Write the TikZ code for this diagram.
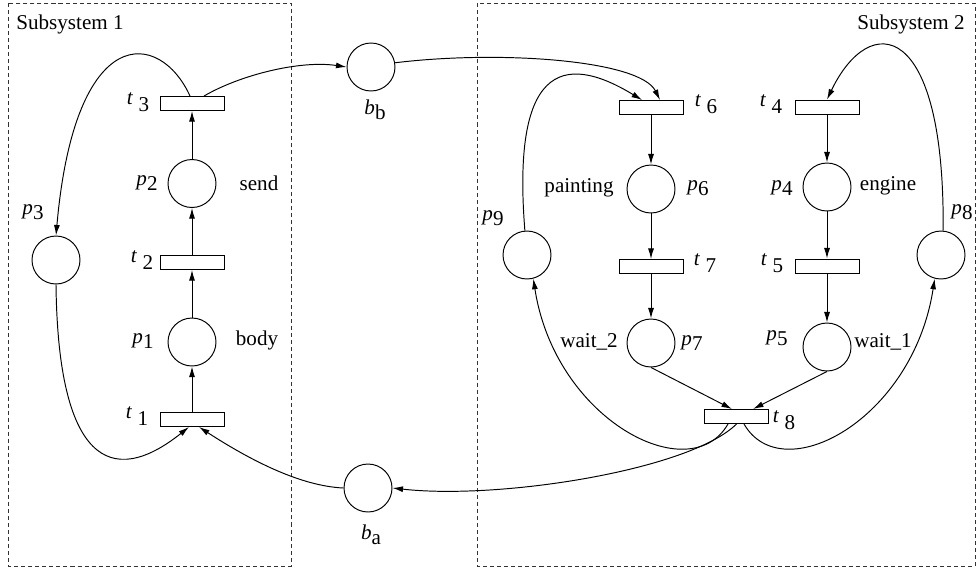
\documentclass[tikz,border=0pt]{standalone}
\usepackage{fontspec}
\setmainfont{Liberation Serif}
\usetikzlibrary{arrows.meta,calc}
\newcommand\ilab[2]{\textit{#1}\raisebox{-0.55ex}{#2}}
\newcommand\tlab[1]{\textit{t}\kern0.25em\raisebox{-0.75ex}{#1}}
\begin{document}
\begin{tikzpicture}[x=0.02cm,y=-0.02cm,
  font=\fontsize{12}{14}\selectfont,
  line width=0.55pt,
  place/.style={circle,draw,minimum size=0.96cm,inner sep=0pt},
  trans/.style={rectangle,draw,minimum width=1.28cm,minimum height=0.28cm,inner sep=0pt},
  arr/.style={-{Latex[length=6pt,width=3.4pt]}},
  sysbox/.style={draw=black!80,dash pattern=on 2.3pt off 1.7pt,line width=0.5pt},
  lbl/.style={inner sep=0pt,anchor=center}]
\useasboundingbox (0,0) rectangle (979,569);
% subsystem boxes
\draw[sysbox] (8,3) rectangle (291,566);
\draw[sysbox] (477,3) rectangle (975,566);
\node[lbl] (s1) at (70,24) {Subsystem 1};
\node[lbl] (s2) at (911,24) {Subsystem 2};
% subsystem 1
\node[trans] (t3) at (192,103.5) {};
\node[place] (p2) at (192,183.5) {};
\node[trans] (t2) at (192,262.5) {};
\node[place] (p1) at (192,342) {};
\node[trans] (t1) at (192,419.5) {};
\node[place] (p3) at (56,260) {};
% buffers
\node[place] (bb) at (371,67) {};
\node[place] (ba) at (368,488) {};
% subsystem 2
\node[trans] (t6) at (651,107.5) {};
\node[place] (p6) at (651,189) {};
\node[trans] (t7) at (651,266.5) {};
\node[place] (p7) at (651,343) {};
\node[trans] (t4) at (827,107) {};
\node[place] (p4) at (827,187) {};
\node[trans] (t5) at (827,266) {};
\node[place] (p5) at (827,347) {};
\node[place] (p9) at (527,255) {};
\node[place] (p8) at (941,255) {};
\node[trans] (t8) at (736.5,416.5) {};
% labels
\node[lbl] (lt3) at (138,102) {\tlab{3}};
\node[lbl] (lp2) at (147,183) {\ilab{p}{2}};
\node[lbl] (lsend) at (259,183) {send};
\node[lbl] (lp3) at (33,212) {\ilab{p}{3}};
\node[lbl] (lt2) at (142,260) {\tlab{2}};
\node[lbl] (lp1) at (143,341) {\ilab{p}{1}};
\node[lbl] (lbody) at (257,340) {body};
\node[lbl] (lt1) at (137,416) {\tlab{1}};
\node[lbl] (lbb) at (375,110) {\ilab{b}{b}};
\node[lbl] (lba) at (371,535) {\ilab{b}{a}};
\node[lbl] (lt6) at (706,104) {\tlab{6}};
\node[lbl] (lp6) at (698,188) {\ilab{p}{6}};
\node[lbl] (lpaint) at (579,188) {painting};
\node[lbl] (lt4) at (771,104) {\tlab{4}};
\node[lbl] (lp4) at (782,188) {\ilab{p}{4}};
\node[lbl] (leng) at (888,186) {engine};
\node[lbl] (lt7) at (705,263) {\tlab{7}};
\node[lbl] (lt5) at (772,263) {\tlab{5}};
\node[lbl] (lp8) at (962,212) {\ilab{p}{8}};
\node[lbl] (lp9) at (493,218) {\ilab{p}{9}};
\node[lbl] (lw2) at (589,342) {wait\_2};
\node[lbl] (lp7) at (692,343) {\ilab{p}{7}};
\node[lbl] (lp5) at (777,338) {\ilab{p}{5}};
\node[lbl] (lw1) at (883,342) {wait\_1};
\node[lbl] (lt8) at (784,420) {\tlab{8}};
% straight arcs subsystem 1
\draw[arr] (t1) -- (p1);
\draw[arr] (p1) -- (t2);
\draw[arr] (t2) -- (p2);
\draw[arr] (p2) -- (t3);
% straight arcs subsystem 2
\draw[arr] (t6) -- (p6);
\draw[arr] (p6) -- (t7);
\draw[arr] (t7) -- (p7);
\draw[arr] (t4) -- (p4);
\draw[arr] (p4) -- (t5);
\draw[arr] (t5) -- (p5);
\draw[arr] (p7.south) -- ($(t8.north)+(-4.5,0)$);
\draw[arr] (p5.south) -- ($(t8.north)+(16.5,0)$);
% curved arcs
\draw[arr] ($(t3.north)+(-2,0)$) .. controls (160,30) and (75,20) .. (p3.north);
\draw[arr] ($(t3.north)+(12,0)$) .. controls (240,75) and (300,60) .. (bb.west);
\draw[arr] (bb.10) .. controls (500,50) and (640,60) .. ($(t6.north)+(9,0)$);
\draw[arr] (p9.95) .. controls (512,70) and (560,50) .. ($(t6.north)+(-9,0)$);
\draw[arr] (p8.85) .. controls (945,20) and (870,10) .. (t4.north);
\draw[arr] ($(t8.south)+(-8.5,0)$) .. controls (690,490) and (555,420) .. (p9.-75);
\draw[arr] ($(t8.south)+(7.5,0)$) .. controls (782,490) and (913,420) .. (p8.-105);
\draw[arr] (t8.south) .. controls (690,470) and (500,500) .. (ba.east);
\draw[arr] (p3.south) .. controls (58,460) and (110,490) .. ($(t1.south)+(-3,0)$);
\draw[arr] (ba.west) .. controls (300,486) and (250,460) .. ($(t1.south)+(7,0)$);
\end{tikzpicture}
\end{document}
